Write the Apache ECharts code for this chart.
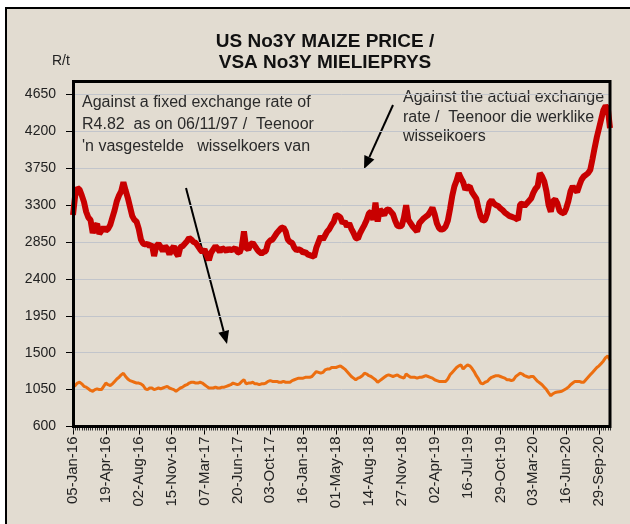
<!DOCTYPE html>
<html>
<head>
<meta charset="utf-8">
<script src="https://cdn.jsdelivr.net/npm/echarts@6/dist/echarts.min.js"></script>
<style>
  html, body { margin: 0; padding: 0; background: #fff; }
  .wrap { position: relative; width: 630px; height: 524px; overflow: hidden; }
  .paper {
    position: absolute; left: 5px; top: 7px; width: 640px; height: 540px;
    background: #e2dcd1; border-left: 2px solid #000; border-top: 2px solid #000;
  }
  #chart { position: absolute; left: 0; top: 0; width: 630px; height: 524px; }
</style>
</head>
<body>
<div class="wrap">
  <div class="paper"></div>
  <div id="chart"></div>
</div>
<script>
// weekly prices, R/t
const tickDates = [
  '05-Jan-16', '19-Apr-16', '02-Aug-16', '15-Nov-16', '07-Mar-17', '20-Jun-17',
  '03-Oct-17', '16-Jan-18', '01-May-18', '14-Aug-18', '27-Nov-18', '02-Apr-19',
  '16-Jul-19', '29-Oct-19', '03-Mar-20', '16-Jun-20', '29-Sep-20',
];

// against the actual exchange rate
const actualRate = [
  3180, 3420, 3510, 3490, 3420, 3340, 3220, 3150, 3120, 2960,
  3040, 3070, 2950, 2990, 3030, 2990, 3010, 3060, 3150, 3240,
  3350, 3420, 3470, 3580, 3480, 3390, 3280, 3170, 3120, 3100,
  3010, 2880, 2830, 2820, 2830, 2800, 2820, 2680, 2800, 2830,
  2790, 2740, 2800, 2770, 2700, 2760, 2800, 2720, 2680, 2790,
  2800, 2830, 2860, 2900, 2880, 2850, 2840, 2800, 2760, 2730,
  2760, 2690, 2630, 2720, 2760, 2800, 2770, 2730, 2780, 2760,
  2740, 2770, 2750, 2760, 2780, 2730, 2720, 2790, 2980, 2780,
  2760, 2820, 2840, 2800, 2760, 2730, 2710, 2730, 2740, 2840,
  2870, 2880, 2920, 2960, 2990, 3020, 3030, 2980, 2880, 2850,
  2840, 2780, 2750, 2760, 2750, 2720, 2730, 2700, 2690, 2680,
  2670, 2780, 2850, 2920, 2880, 2930, 2980, 3010, 3060, 3100,
  3180, 3170, 3150, 3080, 3100, 3040, 3080, 3010, 2960, 2900,
  2890, 2960, 3010, 3060, 3120, 3200, 3220, 3120, 3330, 3100,
  3250, 3210, 3180, 3240, 3250, 3220, 3190, 3110, 3050, 3040,
  3050, 3150, 3300, 3120, 3080, 3040, 3010, 2980, 3080, 3110,
  3140, 3160, 3180, 3220, 3270, 3190, 3080, 3020, 3000, 3010,
  3040, 3110, 3250, 3410, 3530, 3600, 3690, 3630, 3580, 3490,
  3520, 3530, 3460, 3420, 3380, 3260, 3160, 3110, 3120, 3200,
  3330, 3360, 3320, 3300, 3290, 3260, 3240, 3210, 3190, 3170,
  3160, 3150, 3140, 3120, 3310, 3320, 3290, 3320, 3350, 3380,
  3450, 3500, 3530, 3690, 3650, 3590, 3470, 3300, 3220, 3350,
  3370, 3320, 3230, 3210, 3200, 3260, 3350, 3470, 3530, 3490,
  3460, 3540, 3610, 3650, 3670, 3690, 3730, 3860, 4000, 4130,
  4240, 4350, 4460, 4510, 4480, 4240,
];

// against a fixed exchange rate of R4.82
const fixedRate = [
  1080, 1100, 1130, 1140, 1120, 1090, 1080, 1060, 1040, 1030,
  1050, 1060, 1050, 1050, 1090, 1130, 1110, 1100, 1120, 1150,
  1180, 1200, 1230, 1250, 1210, 1180, 1160, 1150, 1140, 1130,
  1130, 1120, 1100, 1060, 1050, 1070, 1070, 1050, 1060, 1070,
  1060, 1070, 1080, 1090, 1070, 1060, 1050, 1030, 1050, 1070,
  1080, 1100, 1110, 1130, 1140, 1140, 1130, 1130, 1140, 1130,
  1110, 1090, 1070, 1070, 1070, 1080, 1070, 1070, 1080, 1080,
  1090, 1100, 1110, 1130, 1120, 1110, 1120, 1150, 1170, 1120,
  1130, 1130, 1140, 1120, 1120, 1110, 1120, 1120, 1130, 1150,
  1160, 1150, 1150, 1150, 1140, 1140, 1150, 1140, 1140, 1140,
  1160, 1170, 1180, 1190, 1190, 1190, 1200, 1200, 1200, 1210,
  1240, 1270, 1260, 1250, 1260, 1290, 1300, 1300, 1320, 1320,
  1320, 1330, 1340, 1320, 1300, 1270, 1240, 1210, 1190, 1170,
  1190, 1200, 1220, 1250, 1240, 1220, 1210, 1190, 1170, 1140,
  1160, 1180, 1200, 1220, 1230, 1220, 1210, 1220, 1230, 1210,
  1200, 1190, 1240, 1220, 1200, 1200, 1200, 1190, 1200, 1200,
  1210, 1220, 1210, 1200, 1190, 1170, 1160, 1150, 1150, 1150,
  1150, 1180, 1230, 1260, 1290, 1320, 1340, 1350, 1300, 1330,
  1350, 1340, 1310, 1270, 1220, 1180, 1130, 1120, 1140, 1150,
  1180, 1200, 1210, 1220, 1220, 1210, 1200, 1190, 1170, 1170,
  1160, 1170, 1210, 1230, 1250, 1240, 1220, 1210, 1200, 1210,
  1210, 1180, 1150, 1130, 1110, 1080, 1050, 1010, 975, 1000,
  1015, 1020, 1025, 1030, 1045, 1060, 1080, 1110, 1130, 1150,
  1150, 1150, 1140, 1140, 1170, 1200, 1230, 1260, 1290, 1320,
  1340, 1370, 1400, 1440, 1460, 1410,
];

const MONTHS = ['Jan', 'Feb', 'Mar', 'Apr', 'May', 'Jun', 'Jul', 'Aug', 'Sep', 'Oct', 'Nov', 'Dec'];
const FONT = "'Liberation Sans', Arial, sans-serif";
const WEEKS_PER_TICK = 15;

const parseDate = (s) => {
  const [d, m, y] = s.split('-');
  return new Date(Date.UTC(2000 + Number(y), MONTHS.indexOf(m), Number(d)));
};
const fmtDate = (dt) =>
  String(dt.getUTCDate()).padStart(2, '0') + '-' + MONTHS[dt.getUTCMonth()] + '-' + String(dt.getUTCFullYear()).slice(2);

// one category per week, the labelled dates every 15 weeks
const categories = [];
tickDates.forEach((label, i) => {
  const start = parseDate(label);
  const n = i < tickDates.length - 1 ? WEEKS_PER_TICK : actualRate.length - categories.length;
  for (let k = 0; k < n; k++) {
    categories.push(fmtDate(new Date(start.getTime() + k * 7 * 86400000)));
  }
});

const arrow = (x1, y1, x2, y2) => {
  const ang = Math.atan2(y2 - y1, x2 - x1);
  const len = 13, w = 5.5;
  const bx = x2 - len * Math.cos(ang), by = y2 - len * Math.sin(ang);
  const px = -Math.sin(ang) * w, py = Math.cos(ang) * w;
  return [
    { type: 'line', shape: { x1, y1, x2: bx, y2: by }, style: { stroke: '#000', lineWidth: 2 } },
    { type: 'polygon', shape: { points: [[x2, y2], [bx + px, by + py], [bx - px, by - py]] }, style: { fill: '#000' } },
  ];
};

const text = (str, x, y, font, extra) => ({
  type: 'text',
  style: Object.assign({ text: str, x, y, font: `${font} ${FONT}`, fill: '#2a2a2a', verticalAlign: 'middle' }, extra || {}),
});

const chart = echarts.init(document.getElementById('chart'));
chart.setOption({
  animation: false,
  grid: { left: 73, right: 20, top: 94.5, bottom: 97.5, show: false },
  xAxis: [
    {
      type: 'category',
      data: categories,
      boundaryGap: false,
      axisLine: { show: false },
      axisTick: { show: true, interval: WEEKS_PER_TICK - 1, length: 8, lineStyle: { color: '#000' } },
      axisLabel: { interval: WEEKS_PER_TICK - 1, rotate: 90, margin: 10, color: '#222', fontSize: 15, fontFamily: FONT },
      splitLine: { show: false },
    },
    {
      type: 'category',
      data: categories,
      position: 'bottom',
      boundaryGap: false,
      axisLine: { show: false },
      axisTick: { show: true, interval: 0, length: 4, lineStyle: { color: '#333' } },
      axisLabel: { show: false },
    },
  ],
  yAxis: {
    type: 'value',
    min: 600,
    max: 4650,
    interval: 450,
    axisLine: { show: false },
    axisTick: { show: true, length: 7, lineStyle: { color: '#000' } },
    axisLabel: { color: '#222', fontSize: 14, fontFamily: FONT, margin: 17, formatter: (v) => String(v) },
    splitLine: { lineStyle: { color: '#c2c5cb', width: 1 } },
  },
  series: [
    {
      name: 'Actual exchange rate',
      type: 'line',
      data: actualRate,
      symbol: 'none',
      lineStyle: { color: '#c80000', width: 6 },
      z: 3,
    },
    {
      name: 'Fixed exchange rate',
      type: 'line',
      data: fixedRate,
      symbol: 'none',
      lineStyle: { color: '#ec6e10', width: 3 },
    },
  ],
  graphic: [
    // plot frame
    { type: 'rect', shape: { x: 73.5, y: 81.5, width: 536.5, height: 345 }, style: { fill: 'none', stroke: '#000', lineWidth: 3 }, z: 10 },
    text('US No3Y MAIZE PRICE /', 325, 42, 'bold 19px', { align: 'center', fill: '#111' }),
    text('VSA No3Y MIELIEPRYS', 325, 63, 'bold 19px', { align: 'center', fill: '#111' }),
    text('R/t', 52, 61, '14px', { fill: '#222' }),
    text('Against a fixed exchange rate of', 82, 103, '16px'),
    text('R4.82  as on 06/11/97 /  Teenoor', 82, 125, '16px'),
    text("'n vasgestelde   wisselkoers van", 82, 147, '16px'),
    text('Against the actual exchange', 403, 98, '16px'),
    text('rate /  Teenoor die werklike', 403, 118, '16px'),
    text('wisselkoers', 403, 137, '16px'),
    ...arrow(186, 188, 227, 344),
    ...arrow(393, 105, 364, 169),
  ],
});
</script>
</body>
</html>
